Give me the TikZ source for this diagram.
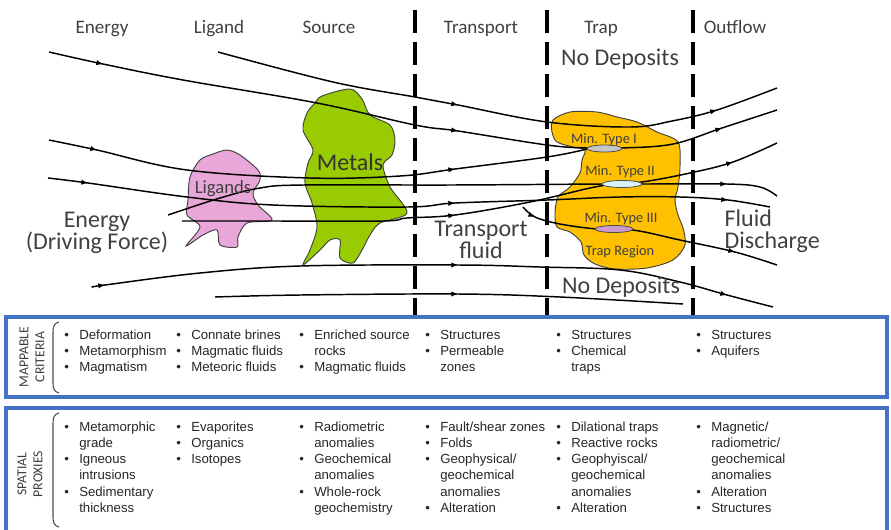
\documentclass[tikz,border=0pt]{standalone}
\usepackage{fontspec}
\setmainfont{Carlito}
\newfontfamily\arialfont{Liberation Sans}
\usetikzlibrary{arrows.meta}

\definecolor{trapgold}{HTML}{FFC000}
\definecolor{metalgreen}{HTML}{99CC00}
\definecolor{ligandpink}{HTML}{E9A6D8}
\definecolor{frameblue}{HTML}{4472C4}
\definecolor{labelgrey}{HTML}{404040}

\newcommand{\itm}{\makebox[11.25pt][l]{\textbullet}}
\newcommand{\cont}{\hspace*{11.25pt}}

\begin{document}
\begin{tikzpicture}[x=0.75pt, y=-0.75pt,
    flow/.style={line width=1.1pt},
    flowtip/.style={-{Latex[length=5pt,width=4pt]}, line width=0.8pt},
    blob/.style={draw=black!75, line width=0.7pt},
    lens/.style={draw=black!70, line width=0.6pt},
    divider/.style={line width=2.3pt, dash pattern=on 17pt off 7pt},
    heading/.style={anchor=base, text=labelgrey, font=\fontsize{14.3}{17}\selectfont},
    bigtext/.style={text=labelgrey, align=center, font=\fontsize{18}{16.5}\selectfont},
    minlabel/.style={anchor=base, text=black!75, font=\fontsize{10.8}{12}\selectfont},
    panel/.style={draw=frameblue, line width=2.3pt},
    bracket/.style={draw=black!70, line width=0.8pt},
    sidelabel/.style={rotate=90, align=center, text=labelgrey, font=\fontsize{10.3}{12}\selectfont},
    crit/.style={anchor=base west, inner sep=0pt, text=black!85, font=\arialfont\fontsize{9.9}{12.2}\selectfont}]
\useasboundingbox (0,0) rectangle (891,529);

% column headings
\node[heading] (energy) at (102,33) {Energy};
\node[heading] (ligand) at (219,33) {Ligand};
\node[heading] (source) at (329,33) {Source};
\node[heading] (transport) at (481,33) {Transport};
\node[heading] (trap) at (601,33) {Trap};
\node[heading] (outflow) at (735,33) {Outflow};

% blobs
\path[blob, fill=ligandpink] plot[smooth cycle, tension=0.5] coordinates {(227,150) (240,155) (258,170) (260,180) (253,193) (258,205) (272,220) (247,223) (238,237) (237,247) (220,245) (217,230) (203,235) (186,246) (200,227) (187,215) (188,200) (190,177) (200,160) (213,154)};
\path[blob, fill=metalgreen] plot[smooth cycle, tension=0.5] coordinates {(315,103) (322,96) (350,89) (362,99) (370,115) (390,125) (395,140) (392,155) (383,165) (390,187) (407,213) (380,223) (370,235) (362,250) (353,263) (340,258) (340,240) (330,240) (320,250) (303,265) (310,250) (317,227) (312,203) (305,183) (308,163) (313,150) (303,130) (307,113)};
\path[blob, fill=trapgold] plot[smooth cycle, tension=0.5] coordinates {(553,120) (552,132) (557,142) (573,147) (585,150) (582,160) (580,173) (570,187) (558,197) (555,213) (557,227) (570,232) (581,242) (584,255) (595,264) (615,269) (647,268) (673,260) (685,245) (683,228) (678,215) (675,200) (678,187) (680,167) (678,142) (657,132) (637,122) (617,117) (597,112) (570,112)};

% dashed dividers
\draw[divider] (415,10) -- (415,318);
\draw[divider] (547,10) -- (547,318);
\draw[divider] (693,10) -- (693,318);

% flow lines
\draw[flow] plot[smooth, tension=0.6] coordinates {(49,52) (103,64) (183,80) (317,103) (415,125) (458,131) (547,145) (587,148) (622,148) (673,144) (722,128) (777,110)};
\draw[flow] plot[smooth, tension=0.6] coordinates {(218,52) (333,82) (415,97) (458,105) (547,122) (630,127) (672,121) (717,110) (777,88)};
\draw[flow] plot[smooth, tension=0.6] coordinates {(49,140) (97,150) (187,170) (310,178) (400,176) (455,169) (547,157) (587,149)};
\draw[flow] plot[smooth, tension=0.6] coordinates {(48,178) (88,183) (187,197) (273,205) (407,207) (455,203) (547,200) (620,197) (680,197) (728,200) (770,207)};
\draw[flow] plot[smooth, tension=0.6] coordinates {(168,215) (220,198) (260,188) (303,185) (450,185) (602,184) (642,184) (727,184) (760,187) (777,196)};
\draw[flow] plot[smooth, tension=0.6] coordinates {(182,221) (273,221) (383,221) (407,218) (455,215) (530,202) (600,186) (642,182) (690,173) (733,162) (777,143)};
\draw[flow] plot[smooth, tension=0.6] coordinates {(523,207) (535,217) (560,224) (597,229) (633,230) (680,240) (735,252) (777,265)};
\draw[flow] plot[smooth, tension=0.6] coordinates {(93,287) (105,285) (200,273) (300,266) (458,265) (540,267) (620,270) (680,282) (727,295) (773,307)};
\draw[flow] plot[smooth, tension=0.6] coordinates {(215,297) (300,295) (458,294) (560,297) (683,304)};

% arrow heads along the flow
\draw[flowtip] (99,63.2) -- (103,64);
\draw[flowtip] (454,130.4) -- (458,131);
\draw[flowtip] (718,129.3) -- (722,128);
\draw[flowtip] (454,104.2) -- (458,105);
\draw[flowtip] (713,111.1) -- (717,110);
\draw[flowtip] (93,149.1) -- (97,150);
\draw[flowtip] (451,169.5) -- (455,169);
\draw[flowtip] (84,182.5) -- (88,183);
\draw[flowtip] (451,203.2) -- (455,203);
\draw[flowtip] (724,199.7) -- (728,200);
\draw[flowtip] (723,184) -- (727,184);
\draw[flowtip] (451,215.5) -- (455,215);
\draw[flowtip] (729,163.2) -- (733,162);
\draw[flowtip] (531,215.3) -- (535,217);
\draw[flowtip] (731,251) -- (735,252);
\draw[flowtip] (101,285.5) -- (105,285);
\draw[flowtip] (454,265) -- (458,265);
\draw[flowtip] (723,294) -- (727,295);
\draw[flowtip] (454,294) -- (458,294);

% mineral lenses
\path[lens, fill=gray!45] (604.5,148.5) ellipse [x radius=17.5, y radius=3.5];
\path[lens, fill=cyan!15] (622,184) ellipse [x radius=20, y radius=3.5];
\path[lens, fill=violet!40] (614,229) ellipse [x radius=19, y radius=3.5];

% labels in the scene
\node[bigtext, anchor=base] (nodepup) at (620,65) {No Deposits};
\node[bigtext, anchor=base] (nodepdown) at (621,293) {No Deposits};
\node[bigtext] (driving) at (97,233) {Energy\\(Driving Force)};
\node[bigtext] (fluid) at (481,240) {Transport\\fluid};
\node[bigtext, align=left, anchor=west] (discharge) at (720,231) {Fluid\\Discharge};
\node[heading, text=black!80, font=\fontsize{18}{18}\selectfont] (metals) at (350,170) {Metals};
\node[heading, text=black!75, font=\fontsize{14}{14}\selectfont] (ligands) at (223,193) {Ligands};
\node[minlabel] (typeI) at (604,143) {Min. Type I};
\node[minlabel] (typeII) at (620,175) {Min. Type II};
\node[minlabel] (typeIII) at (621,222) {Min. Type III};
\node[minlabel] (region) at (620,255) {Trap Region};

% criteria panels
\draw[panel] (6,317) rectangle (887,397);
\draw[panel] (6,531) |- (887,408) -- (887,531);
\node[sidelabel] (mappable) at (32,357) {MAPPABLE\\CRITERIA};
\node[sidelabel] (spatial) at (30,474) {SPATIAL\\PROXIES};
\draw[bracket] (59,322) .. controls (54,323) and (53,327) .. (53,332) -- (53,383) .. controls (53,388) and (54,392) .. (59,393);
\draw[bracket] (59,413) .. controls (54,414) and (53,418) .. (53,423) -- (53,517) .. controls (53,522) and (54,526) .. (59,527);

\node[crit] (mc1) at (64,339) {\begin{tabular}[t]{@{}l@{}}\itm Deformation\\\itm Metamorphism\\\itm Magmatism\end{tabular}};
\node[crit] (mc2) at (176,339) {\begin{tabular}[t]{@{}l@{}}\itm Connate brines\\\itm Magmatic fluids\\\itm Meteoric fluids\end{tabular}};
\node[crit] (mc3) at (299,339) {\begin{tabular}[t]{@{}l@{}}\itm Enriched source\\\cont rocks\\\itm Magmatic fluids\end{tabular}};
\node[crit] (mc4) at (425,339) {\begin{tabular}[t]{@{}l@{}}\itm Structures\\\itm Permeable\\\cont zones\end{tabular}};
\node[crit] (mc5) at (556,339) {\begin{tabular}[t]{@{}l@{}}\itm Structures\\\itm Chemical\\\cont traps\end{tabular}};
\node[crit] (mc6) at (696,339) {\begin{tabular}[t]{@{}l@{}}\itm Structures\\\itm Aquifers\end{tabular}};

\node[crit] (sp1) at (64,431) {\begin{tabular}[t]{@{}l@{}}\itm Metamorphic\\\cont grade\\\itm Igneous\\\cont intrusions\\\itm Sedimentary\\\cont thickness\end{tabular}};
\node[crit] (sp2) at (176,431) {\begin{tabular}[t]{@{}l@{}}\itm Evaporites\\\itm Organics\\\itm Isotopes\end{tabular}};
\node[crit] (sp3) at (299,431) {\begin{tabular}[t]{@{}l@{}}\itm Radiometric\\\cont anomalies\\\itm Geochemical\\\cont anomalies\\\itm Whole-rock\\\cont geochemistry\end{tabular}};
\node[crit] (sp4) at (425,431) {\begin{tabular}[t]{@{}l@{}}\itm Fault/shear zones\\\itm Folds\\\itm Geophysical/\\\cont geochemical\\\cont anomalies\\\itm Alteration\end{tabular}};
\node[crit] (sp5) at (556,431) {\begin{tabular}[t]{@{}l@{}}\itm Dilational traps\\\itm Reactive rocks\\\itm Geophyiscal/\\\cont geochemical\\\cont anomalies\\\itm Alteration\end{tabular}};
\node[crit] (sp6) at (696,431) {\begin{tabular}[t]{@{}l@{}}\itm Magnetic/\\\cont radiometric/\\\cont geochemical\\\cont anomalies\\\itm Alteration\\\itm Structures\end{tabular}};
\end{tikzpicture}
\end{document}
